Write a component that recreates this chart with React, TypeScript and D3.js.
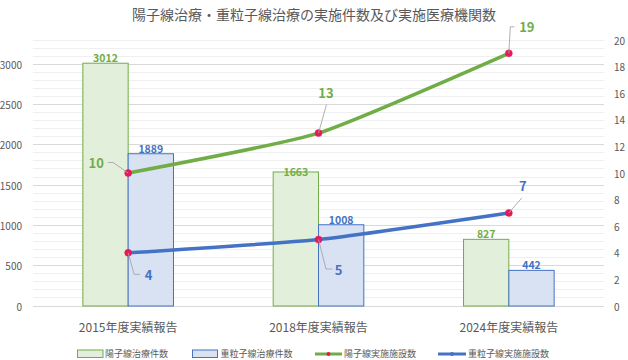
import React from "react";
import * as d3 from "d3";

const title = "陽子線治療・重粒子線治療の実施件数及び実施医療機関数";
const categories = ["2015年度実績報告", "2018年度実績報告", "2024年度実績報告"];
const protonCases = [3012, 1663, 827];
const heavyCases = [1889, 1008, 442];
const protonFacilities = [10, 13, 19];
const heavyFacilities = [4, 5, 7];
const leftTicks = [0, 500, 1000, 1500, 2000, 2500, 3000];
const rightTicks = [0, 2, 4, 6, 8, 10, 12, 14, 16, 18, 20];
const legendLabels = ["陽子線治療件数", "重粒子線治療件数", "陽子線実施施設数", "重粒子線実施施設数"];

const W = 628;
const H = 360;
const plot = { left: 33, right: 604, top: 40, bottom: 306 };
const FONT = "'Noto Sans CJK JP', 'Noto Sans', sans-serif";
const GREEN = "#70ad47";
const BLUE = "#4472c4";
const GREEN_FILL = "#e2efda";
const BLUE_FILL = "#d9e2f3";
const MARKER = "#e6195a";
const TEXT = "#595959";

const protonLabelStyle = [
  { dx: -32, dy: -10.5, leader: [[0, 0], [-15, -10.5], [-20, -10.5]] },
  { dx: 7.5, dy: -41, leader: [[0, 0], [8, -28.5]] },
  { dx: 18, dy: -26.5, leader: [[0, 0], [1.5, -26.5], [5.5, -26.5]] },
];
const heavyLabelStyle = [
  { dx: 20.5, dy: 21.5, leader: [[0, 0], [6, 21.5], [12, 21.5]] },
  { dx: 20, dy: 29.5, leader: [[0, 0], [7.5, 29.5], [14, 29.5]] },
  { dx: 14, dy: -27.5, leader: [[0, 0], [13, -15]] },
];
const greenLabelShift = [0, 5.5, 0];

export default function App() {
  const x = d3.scaleBand<string>().domain(categories).range([plot.left, plot.right]).padding(0);
  const yL = d3.scaleLinear().domain([0, 3300]).range([plot.bottom, plot.top]);
  const yR = d3.scaleLinear().domain([0, 20]).range([plot.bottom, plot.top]);
  const bw = x.bandwidth() / 2.1 / 2;
  const cx = (c: string) => (x(c) as number) + x.bandwidth() / 2;

  const minor = d3.range(0, 3301, 100);
  const line = d3
    .line<number>()
    .x((_, i) => cx(categories[i]))
    .y((d) => yR(d))
    .curve(d3.curveCardinal.tension(0.5));

  const renderLabels = (vals: number[], styles: any[], color: string) =>
    vals.map((v, i) => {
      const px = cx(categories[i]);
      const py = yR(v);
      const s = styles[i];
      const pts = s.leader.map((p: number[]) => [px + p[0], py + p[1]]);
      return (
        <g key={i}>
          <polyline
            points={pts.map((p: number[]) => p.join(",")).join(" ")}
            fill="none"
            stroke="#a6a6a6"
            strokeWidth={0.9}
          />
          <text
            x={px + s.dx}
            y={py + s.dy}
            textAnchor="middle"
            dominantBaseline="central"
            fontSize={13}
            fontWeight="bold"
            fill={color}
          >
            {v}
          </text>
        </g>
      );
    });

  return (
    <svg
      width={W}
      height={H}
      style={{ position: "absolute", left: 0, top: 0, background: "#fff" }}
      fontFamily={FONT}
    >
      <rect width={W} height={H} fill="#fff" />
      <text x={314} y={14} textAnchor="middle" dominantBaseline="central" fontSize={14} fill={TEXT}>
        {title}
      </text>

      {minor.map((v) => (
        <line
          key={"m" + v}
          x1={plot.left}
          x2={plot.right}
          y1={yL(v)}
          y2={yL(v)}
          stroke={v % 500 === 0 ? "#d9d9d9" : "#efefef"}
          strokeWidth={1}
          shapeRendering="crispEdges"
        />
      ))}

      {leftTicks.map((t) => (
        <text key={"l" + t} x={22} y={yL(t)} textAnchor="end" dominantBaseline="central" fontSize={10} fill={TEXT}>
          {t}
        </text>
      ))}
      {rightTicks.map((t) => (
        <text key={"r" + t} x={614} y={yR(t)} textAnchor="start" dominantBaseline="central" fontSize={10} fill={TEXT}>
          {t}
        </text>
      ))}

      {categories.map((c, i) => {
        const center = cx(c);
        return (
          <g key={c}>
            <rect
              x={center - bw}
              y={yL(protonCases[i])}
              width={bw}
              height={plot.bottom - yL(protonCases[i])}
              fill={GREEN_FILL}
              stroke={GREEN}
              strokeWidth={1}
            />
            <rect
              x={center}
              y={yL(heavyCases[i])}
              width={bw}
              height={plot.bottom - yL(heavyCases[i])}
              fill={BLUE_FILL}
              stroke={BLUE}
              strokeWidth={1}
            />
            <text
              x={center - bw / 2}
              y={yL(protonCases[i]) - 5.5 + greenLabelShift[i]}
              textAnchor="middle"
              dominantBaseline="central"
              fontSize={10.5}
              fontWeight="bold"
              fill={GREEN}
            >
              {protonCases[i]}
            </text>
            <text
              x={center + bw / 2}
              y={yL(heavyCases[i]) - 5.5}
              textAnchor="middle"
              dominantBaseline="central"
              fontSize={10.5}
              fontWeight="bold"
              fill={BLUE}
            >
              {heavyCases[i]}
            </text>
            <text x={center} y={326} textAnchor="middle" dominantBaseline="central" fontSize={12} fill={TEXT}>
              {c}
            </text>
          </g>
        );
      })}

      <path d={line(protonFacilities) || ""} fill="none" stroke={GREEN} strokeWidth={3.5} strokeLinecap="round" />
      <path d={line(heavyFacilities) || ""} fill="none" stroke={BLUE} strokeWidth={3.5} strokeLinecap="round" />
      {protonFacilities.map((v, i) => (
        <circle key={"pg" + i} cx={cx(categories[i])} cy={yR(v)} r={3.5} fill={MARKER} stroke={MARKER} strokeWidth={0.5} />
      ))}
      {heavyFacilities.map((v, i) => (
        <circle key={"pb" + i} cx={cx(categories[i])} cy={yR(v)} r={3.5} fill={MARKER} stroke={MARKER} strokeWidth={0.5} />
      ))}
      {renderLabels(protonFacilities, protonLabelStyle, GREEN)}
      {renderLabels(heavyFacilities, heavyLabelStyle, BLUE)}

      <g fontSize={9} fill={TEXT}>
        <rect x={77.5} y={350} width={25.5} height={7.5} fill={GREEN_FILL} stroke={GREEN} strokeWidth={1} />
        <text x={105} y={353.5} dominantBaseline="central">{legendLabels[0]}</text>
        <rect x={192.5} y={350} width={25} height={7.5} fill={BLUE_FILL} stroke={BLUE} strokeWidth={1} />
        <text x={220.5} y={353.5} dominantBaseline="central">{legendLabels[1]}</text>
        <line x1={315} x2={342} y1={354} y2={354} stroke={GREEN} strokeWidth={3} />
        <circle cx={328.5} cy={354} r={2} fill={MARKER} />
        <text x={344} y={353.5} dominantBaseline="central">{legendLabels[2]}</text>
        <line x1={438} x2={466} y1={354} y2={354} stroke={BLUE} strokeWidth={3} />
        <circle cx={452} cy={354} r={2} fill={BLUE} />
        <text x={468} y={353.5} dominantBaseline="central">{legendLabels[3]}</text>
      </g>
    </svg>
  );
}
